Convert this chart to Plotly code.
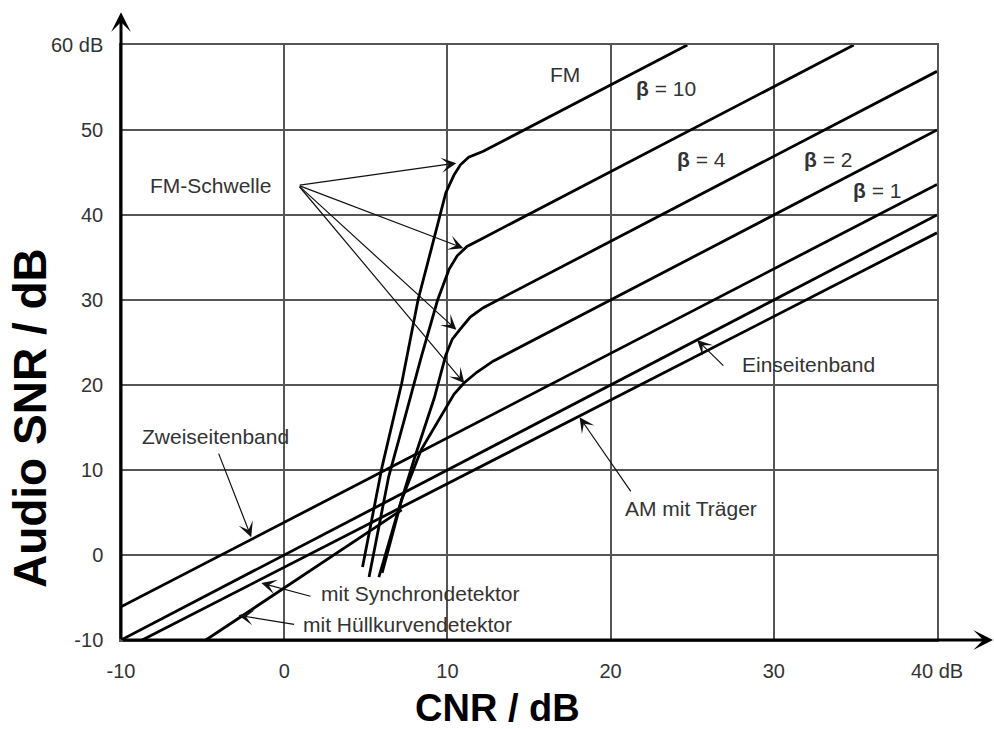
import plotly.graph_objects as go

# ---------------- data ----------------
x_ticks = [-10, 0, 10, 20, 30, 40]
x_ticktext = ["-10", "0", "10", "20", "30", "40 dB"]
y_ticks = [-10, 0, 10, 20, 30, 40, 50, 60]
y_ticktext = ["-10", "0", "10", "20", "30", "40", "50", "60 dB"]

dsb_cnr = [-10, 40]
dsb_snr = [-6.1, 43.6]
ssb_cnr = [-10, 40]
ssb_snr = [-10, 40]
am_sync_cnr = [-8.7, 40]
am_sync_snr = [-10, 37.9]
am_env_cnr = [-4.8, 7.2]
am_env_snr = [-10, 5.3]

fm10_cnr = [4.8, 6.0, 7.2, 8.2, 9.0, 9.9, 10.4, 10.8, 11.3, 12.2, 24.7]
fm10_snr = [-1.4, 10.4, 20.2, 30.0, 35.9, 42.6, 44.7, 45.9, 46.8, 47.5, 60.0]
fm4_cnr = [5.2, 6.4, 7.4, 8.4, 9.4, 10.1, 10.6, 11.2, 12.0, 34.9]
fm4_snr = [-2.6, 9.2, 16.2, 23.3, 30.0, 33.6, 35.2, 36.3, 37.1, 60.0]
fm2_cnr = [5.8, 7.0, 8.0, 9.2, 9.9, 10.3, 10.8, 11.4, 12.2, 40]
fm2_snr = [-2.6, 5.3, 11.5, 18.5, 23.5, 25.4, 26.6, 28.0, 29.1, 56.9]
fm1_cnr = [6.0, 7.2, 8.4, 9.6, 10.4, 11.0, 11.8, 12.8, 40]
fm1_snr = [-2.1, 6.5, 12.4, 16.2, 18.9, 20.2, 21.5, 22.8, 50.0]

series = [
    (dsb_cnr, dsb_snr), (ssb_cnr, ssb_snr), (am_sync_cnr, am_sync_snr),
    (am_env_cnr, am_env_snr), (fm10_cnr, fm10_snr), (fm4_cnr, fm4_snr),
    (fm2_cnr, fm2_snr), (fm1_cnr, fm1_snr),
]

# labels: text, x, y, xanchor
label_text = ["FM-Schwelle", "Zweiseitenband", "mit Synchrondetektor",
              "mit Hüllkurvendetektor", "Einseitenband", "AM mit Träger", "FM",
              "<b>β</b> = 10", "<b>β</b> = 4", "<b>β</b> = 2", "<b>β</b> = 1"]
label_x = [-4.5, -4.2, 2.15, 1.05, 27.9, 24.9, 17.2, 23.4, 25.6, 33.3, 36.3]
label_y = [43.5, 13.9, -4.5, -8.2, 22.4, 5.5, 56.5, 54.9, 46.5, 46.5, 42.9]
label_anchor = ["center", "center", "left", "left", "left", "center",
                "center", "center", "center", "center", "center"]

# pointer arrows: tip (x, y), tail (ax, ay)
arrow_tip_x = [10.55, 10.98, 10.55, 11.04, -2.02, -1.4, -2.8, 25.3, 18.1]
arrow_tip_y = [46.1, 36.1, 26.5, 20.2, 2.1, -3.3, -7.1, 25.3, 16.2]
arrow_tail_x = [0.86, 0.86, 0.86, 0.86, -4.05, 1.7, 0.7, 27.0, 21.3]
arrow_tail_y = [43.5, 43.5, 43.5, 43.5, 12.1, -4.9, -8.2, 22.1, 7.3]

FONT = "Liberation Sans, Arial, sans-serif"

fig = go.Figure()
for cx, cy in series:
    fig.add_trace(go.Scatter(x=cx, y=cy, mode="lines",
                             line=dict(color="#000000", width=2.8),
                             showlegend=False, hoverinfo="skip"))

annotations = []
for t, x, y, a in zip(label_text, label_x, label_y, label_anchor):
    annotations.append(dict(x=x, y=y, xref="x", yref="y", text=t, showarrow=False,
                            xanchor=a, yanchor="middle",
                            font=dict(family=FONT, size=21, color="#333333")))
for tx, ty, ax, ay in zip(arrow_tip_x, arrow_tip_y, arrow_tail_x, arrow_tail_y):
    annotations.append(dict(x=tx, y=ty, xref="x", yref="y", ax=ax, ay=ay,
                            axref="x", ayref="y", text="", showarrow=True,
                            arrowhead=3, arrowsize=2.1, arrowwidth=1.2,
                            arrowcolor="#111111", standoff=0, startstandoff=0))

# axis arrows (paper coordinates)
annotations.append(dict(x=1.069, y=0, xref="paper", yref="paper", ax=-872, ay=0,
                        text="", showarrow=True, arrowhead=3, arrowsize=1.1,
                        arrowwidth=3, arrowcolor="#000000", standoff=0))
annotations.append(dict(x=0, y=1.055, xref="paper", yref="paper", ax=0, ay=628,
                        text="", showarrow=True, arrowhead=3, arrowsize=1.1,
                        arrowwidth=3, arrowcolor="#000000", standoff=0))

# axis titles
annotations.append(dict(x=0.461, y=-0.114, xref="paper", yref="paper",
                        text="<b>CNR / dB</b>", showarrow=False,
                        xanchor="center", yanchor="middle",
                        font=dict(family=FONT, size=38, color="#000000")))
annotations.append(dict(x=-0.1115, y=0.373, xref="paper", yref="paper",
                        text="<b>Audio SNR / dB</b>", showarrow=False, textangle=-90,
                        xanchor="center", yanchor="middle",
                        font=dict(family=FONT, size=46, color="#000000")))

axis_common = dict(showgrid=True, gridcolor="#555555", gridwidth=1.5,
                   zeroline=False, showline=True, mirror=True,
                   linecolor="#555555", linewidth=1.5,
                   ticks="outside", tickcolor="rgba(0,0,0,0)", ticklen=12,
                   tickfont=dict(family=FONT, size=20, color="#333333"))

fig.update_layout(
    width=994, height=729, autosize=False,
    margin=dict(l=121, r=57, t=45, b=89),
    paper_bgcolor="white", plot_bgcolor="white",
    xaxis=dict(range=[-10, 40], tickvals=x_ticks, ticktext=x_ticktext, **axis_common),
    yaxis=dict(range=[-10, 60], tickvals=y_ticks, ticktext=y_ticktext, **axis_common),
    annotations=annotations,
)

fig.write_html("out.html")
